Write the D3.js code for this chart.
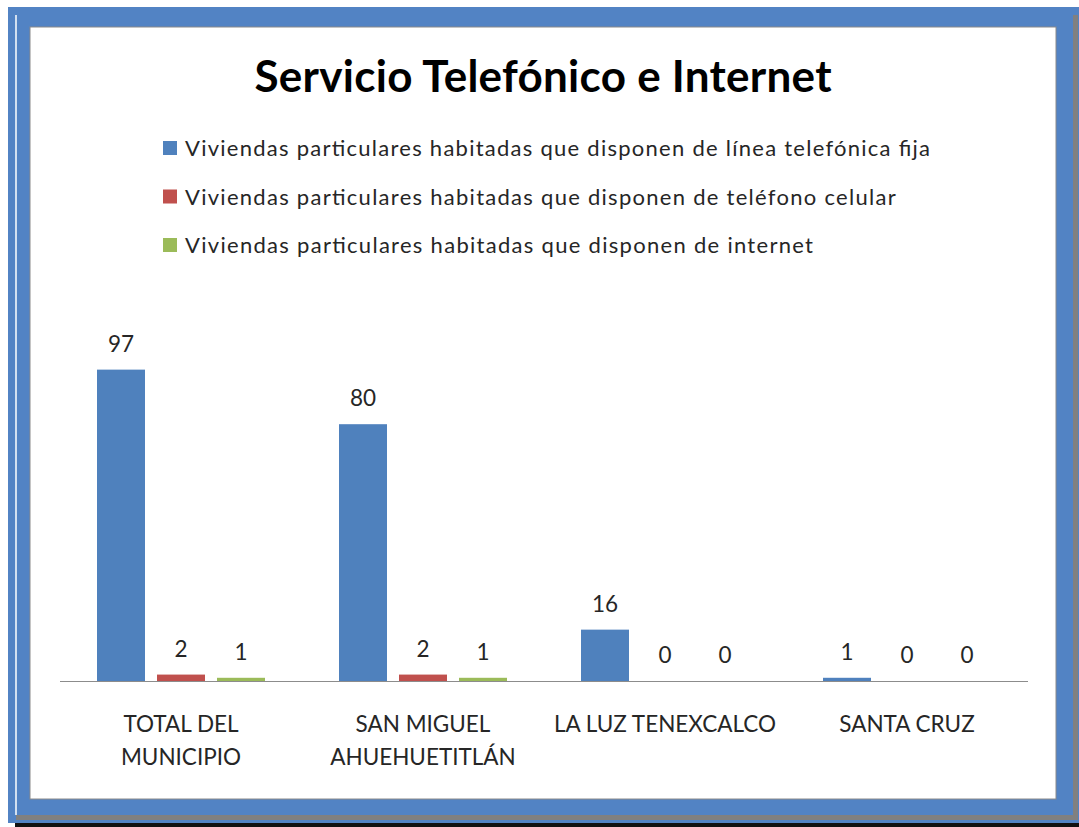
<!DOCTYPE html>
<html>
<head>
<meta charset="utf-8">
<script src="https://cdn.jsdelivr.net/npm/d3@7"></script>
<style>
  body { margin: 0; background: #fff; }
  svg { display: block; font-family: Lato, "Open Sans", sans-serif; }
</style>
</head>
<body>
<div id="chart"></div>
<script>
const categories = [["TOTAL DEL", "MUNICIPIO"], ["SAN MIGUEL", "AHUEHUETITLÁN"], ["LA LUZ TENEXCALCO"], ["SANTA CRUZ"]];
const seriesNames = [
    "Viviendas particulares habitadas que disponen de línea telefónica fija",
    "Viviendas particulares habitadas que disponen de teléfono celular",
    "Viviendas particulares habitadas que disponen de internet"
];
const lineaFija = [97, 80, 16, 1];
const celular = [2, 2, 0, 0];
const internet = [1, 1, 0, 0];
const colors = ["#4F81BD", "#C0504D", "#9BBB59"];

const width = 1079, height = 827;
const svg = d3.select("#chart").append("svg")
    .attr("width", width)
    .attr("height", height);

// frame
svg.append("rect").attr("x", 15).attr("y", 823).attr("width", 1064).attr("height", 4).attr("fill", "#111");
svg.append("rect").attr("x", 8).attr("y", 7).attr("width", 1071).attr("height", 816).attr("fill", "#5283C4");
svg.append("rect").attr("x", 16).attr("y", 15).attr("width", 1057).attr("height", 800)
    .attr("fill", "none").attr("stroke", "#808080").attr("stroke-width", 5)
    .attr("transform", "translate(2.5,2.5)");
svg.append("rect").attr("x", 16).attr("y", 15).attr("width", 1057).attr("height", 800)
    .attr("fill", "#5283C4");
svg.append("line").attr("x1", 16).attr("y1", 15).attr("x2", 16).attr("y2", 815).attr("stroke", "#fff").attr("stroke-width", 1.5);
svg.append("rect").attr("x", 30).attr("y", 27).attr("width", 1026).attr("height", 772)
    .attr("fill", "#fff").attr("stroke", "#8a8a8a").attr("stroke-width", 1);

// title
svg.append("text")
    .attr("x", 543).attr("y", 92)
    .attr("text-anchor", "middle")
    .attr("textLength", 577).attr("lengthAdjust", "spacing")
    .style("font-size", "44px").style("font-weight", "bold").style("fill", "#000")
    .text("Servicio Telefónico e Internet");

// legend
const legend = svg.append("g").selectAll("g")
    .data(seriesNames)
    .join("g")
    .attr("transform", (d, i) => `translate(163,${141 + i * 48.5})`);
legend.append("rect").attr("width", 14).attr("height", 14).attr("fill", (d, i) => colors[i]);
const legendText = legend.append("text")
    .attr("x", 22).attr("y", 15)
    .style("font-size", "22px").style("fill", "#262626")
    .text(d => d);
// the reference legend is set looser than the font, stretch the spacing
const k = 745 / legendText.node().getComputedTextLength();
legendText.each(function () {
    d3.select(this).attr("textLength", this.getComputedTextLength() * k).attr("lengthAdjust", "spacing");
});

// chart
const x0 = d3.scaleBand().domain(d3.range(categories.length)).range([60, 1028]).paddingInner(0).paddingOuter(0);
const x1 = d3.scaleBand().domain([0, 1, 2]).range([37, 242 - 37]).paddingInner(0.2);
const y = d3.scaleLinear().domain([0, 100]).range([681, 360]);

const series = [lineaFija, celular, internet];
const groups = svg.append("g").selectAll("g")
    .data(categories)
    .join("g")
    .attr("transform", (d, i) => `translate(${x0(i)},0)`);

groups.selectAll("rect")
    .data((d, i) => series.map((s, k) => ({ k, v: s[i] })))
    .join("rect")
    .attr("x", d => x1(d.k))
    .attr("width", x1.bandwidth())
    .attr("y", d => y(d.v))
    .attr("height", d => y(0) - y(d.v))
    .attr("fill", d => colors[d.k]);

groups.selectAll("text.val")
    .data((d, i) => series.map((s, k) => ({ k, v: s[i] })))
    .join("text")
    .attr("class", "val")
    .attr("x", d => x1(d.k) + x1.bandwidth() / 2)
    .attr("y", d => y(d.v) - 18)
    .attr("text-anchor", "middle")
    .style("font-size", "22.5px").style("fill", "#262626")
    .text(d => d.v);

// axis line
svg.append("line").attr("x1", 60).attr("x2", 1028).attr("y1", y(0) + 0.5).attr("y2", y(0) + 0.5)
    .attr("stroke", "#8c8c8c").attr("stroke-width", 1.2);

// category labels
groups.append("text")
    .attr("text-anchor", "middle")
    .style("font-size", "22.5px").style("fill", "#262626")
    .selectAll("tspan")
    .data(d => d)
    .join("tspan")
    .attr("x", x0.bandwidth() / 2)
    .attr("y", (d, i) => 732 + i * 33)
    .text(d => d);
</script>
</body>
</html>
